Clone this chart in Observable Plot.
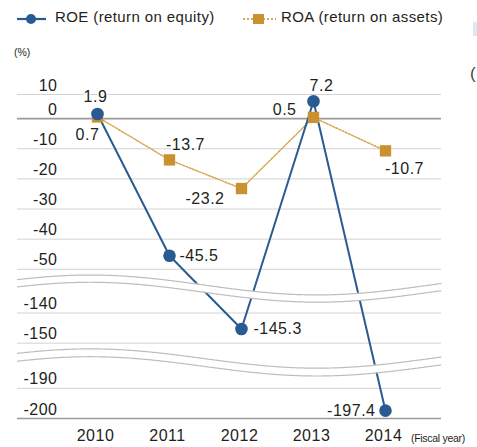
<!DOCTYPE html>
<html>
<head>
<meta charset="utf-8">
<script src="https://cdn.jsdelivr.net/npm/d3@7"></script>
<script src="https://cdn.jsdelivr.net/npm/@observablehq/plot@0.6"></script>
<style>
  html, body { margin: 0; padding: 0; background: #fff; }
  body { width: 477px; height: 447px; position: relative; overflow: hidden;
         font-family: "Liberation Sans", Arial, sans-serif; color: #231f20; }
  #chart { position: absolute; left: 0; top: 0; }
  .lg { position: absolute; top: 8px; font-size: 15px; letter-spacing: 0.4px; white-space: nowrap; }
  .lg svg { position: absolute; }
  #unit { position: absolute; left: 14px; top: 46px; font-size: 10.5px; }
  #fy { position: absolute; left: 411px; top: 432px; font-size: 10.5px; letter-spacing: -0.3px; }
  #paren { position: absolute; left: 470px; top: 64px; font-size: 17px; color: #444; }
  #tab { position: absolute; left: 473px; top: 22px; width: 4px; height: 14px; background: #dbe9f5; }
</style>
</head>
<body>
<div id="chart"></div>
<div class="lg" style="left:17px;">
  <svg width="30" height="14" style="left:0;top:4px"><line x1="0" y1="7" x2="29" y2="7" stroke="#2a5a92" stroke-width="2.2"/><circle cx="14" cy="7" r="5" fill="#2a5a92"/></svg>
  <span style="margin-left:38px">ROE (return on equity)</span>
</div>
<div class="lg" style="left:243px;">
  <svg width="34" height="14" style="left:0;top:4px"><line x1="0" y1="7" x2="33" y2="7" stroke="#d9a651" stroke-width="2" stroke-dasharray="2,2"/><rect x="10" y="2" width="11" height="10" fill="#c9912f"/></svg>
  <span style="margin-left:38px">ROA (return on assets)</span>
</div>
<div id="unit">(%)</div>
<div id="fy">(Fiscal year)</div>
<div id="paren">(</div>
<div id="tab"></div>
<script>
// ---- data ----
const years = [2010, 2011, 2012, 2013, 2014];
const roe = [1.9, -45.5, -145.3, 7.2, -197.4];
const roa = [0.7, -13.7, -23.2, 0.5, -10.7];
const yTicks = [10, 0, -10, -20, -30, -40, -50, -140, -150, -190, -200];

// ---- broken axis mapping (scale transform) ----
function brk(v) {
  if (v > 0) return 0.8 * v;
  if (v >= -100) return v;
  if (v >= -170) return v + 75.5;
  return v + 100.5;
}

const BLUE = "#2a5a92", ORANGE = "#c9912f", ORANGE_LINE = "#d9a651", INK = "#231f20";
const FS = 16, LS = "0.5px";

const roeData = years.map((y, i) => ({year: y, v: roe[i]}));
const roaData = years.map((y, i) => ({year: y, v: roa[i]}));

// wavy break decorations (in scale units)
const xLo = 2008.889, xHi = 2014.778;
function wave(center, amp, gap) {
  return d3.range(xLo, xHi + 0.001, 0.02).map(x => {
    const u = center + amp * Math.cos(2 * Math.PI * (x - 2009.9) / 6.3);
    return {x, upper: u, lower: u - gap};
  });
}
const breaks = [wave(-55.2, 3.3, 2.4), wave(-79.6, 3.2, 2.6)];

// label placements
const roePlace = [
  {dx: -2, dy: -17, a: "middle"},
  {dx: 10, dy: 0, a: "start"},
  {dx: 12, dy: 0, a: "start"},
  {dx: 8, dy: -15, a: "middle"},
  {dx: -10, dy: 0, a: "end"}
];
const roaPlace = [
  {dx: -10, dy: 18, a: "middle"},
  {dx: 16, dy: -15, a: "middle"},
  {dx: -17, dy: 10, a: "end"},
  {dx: -17, dy: -8, a: "end"},
  {dx: 19, dy: 18, a: "middle"}
];
function labelMarks(data, place) {
  return data.map((d, i) => Plot.text([d], {
    x: "year", y: dd => brk(dd.v), text: dd => String(dd.v),
    dx: place[i].dx, dy: place[i].dy, textAnchor: place[i].a,
    fontSize: FS, fill: INK, stroke: "white", strokeWidth: 3, paintOrder: "stroke"
  }));
}

const plot = Plot.plot({
  width: 477, height: 447,
  marginTop: 94, marginBottom: 29, marginLeft: 17, marginRight: 36,
  style: {fontFamily: "'Liberation Sans', Arial, sans-serif", background: "transparent", letterSpacing: LS},
  x: {type: "linear", domain: [xLo, xHi], axis: null},
  y: {type: "linear", domain: [-99.5, 8], axis: null},
  marks: [
    Plot.ruleY(yTicks.filter(t => t !== 0 && t !== -200), {y: d => brk(d), stroke: "#d2d2d2", strokeWidth: 1}),
    Plot.ruleY([0, -200], {y: d => brk(d), stroke: "#9a9a9a", strokeWidth: 1.6}),
    Plot.text(yTicks, {y: d => brk(d), text: d => String(d), frameAnchor: "left", dx: 40, dy: -9,
      textAnchor: "end", fontSize: FS, fill: INK}),
    Plot.text(years, {x: d => d, text: d => String(d), frameAnchor: "bottom", dx: -2, dy: 22,
      fontSize: FS, fill: INK}),
    Plot.line(roaData, {x: "year", y: d => brk(d.v), stroke: ORANGE_LINE, strokeWidth: 1.5, strokeDasharray: "2,1.5"}),
    Plot.line(roeData, {x: "year", y: d => brk(d.v), stroke: BLUE, strokeWidth: 2}),
    ...breaks.flatMap(b => [
      Plot.areaY(b, {x: "x", y1: "upper", y2: "lower", fill: "white", curve: "linear"}),
      Plot.line(b, {x: "x", y: "upper", stroke: "#bdbdbd", strokeWidth: 1.2}),
      Plot.line(b, {x: "x", y: "lower", stroke: "#bdbdbd", strokeWidth: 1.2})
    ]),
    Plot.dot(roaData, {x: "year", y: d => brk(d.v), symbol: "square", r: 6.4, fill: ORANGE}),
    Plot.dot(roeData, {x: "year", y: d => brk(d.v), r: 6.3, fill: BLUE}),
    ...labelMarks(roeData, roePlace),
    ...labelMarks(roaData, roaPlace)
  ]
});
document.getElementById("chart").appendChild(plot);
</script>
</body>
</html>
